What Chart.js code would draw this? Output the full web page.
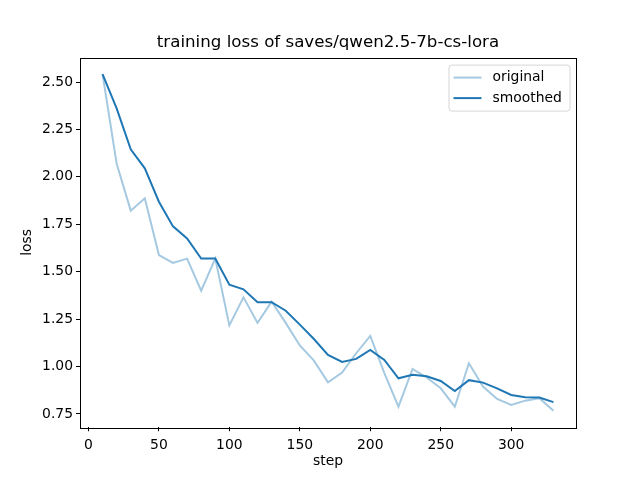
<!DOCTYPE html>
<html><head><meta charset="utf-8">
<script src="https://cdn.jsdelivr.net/npm/chart.js@4.4.0/dist/chart.umd.min.js"></script>
<style>html,body{margin:0;padding:0;background:#fff;}</style>
</head><body>
<canvas id="c" width="640" height="480" style="width:640px;height:480px;display:block"></canvas>
<script>
const steps = [10,20,30,40,50,60,70,80,90,100,110,120,130,140,150,160,170,180,190,200,210,220,230,240,250,260,270,280,290,300,310,320,330];
const originalLoss = [2.542,2.071,1.822,1.887,1.588,1.546,1.569,1.400,1.569,1.217,1.365,1.230,1.342,1.230,1.111,1.031,0.917,0.968,1.070,1.161,0.965,0.788,0.987,0.942,0.885,0.788,1.017,0.894,0.829,0.797,0.820,0.833,0.767];
const smoothedLoss = [2.542,2.361,2.145,2.045,1.869,1.739,1.675,1.569,1.569,1.431,1.407,1.339,1.339,1.294,1.221,1.145,1.061,1.024,1.040,1.087,1.035,0.938,0.957,0.949,0.924,0.871,0.928,0.915,0.885,0.850,0.838,0.836,0.812];
const xTickValues = [0,50,100,150,200,250,300];
const yTickValues = [0.75,1.00,1.25,1.50,1.75,2.00,2.25,2.50];
const titleText = 'training loss of saves/qwen2.5-7b-cs-lora';
const xLabel = 'step';
const yLabel = 'loss';
const seriesNames = ['original','smoothed'];

const FONT = 'DejaVu Sans';
const TICK_SIZE = 13.9;

const titlePlugin = {
  id: 'axesTitle',
  afterDraw(chart) {
    const {ctx, chartArea: a} = chart;
    ctx.save();
    ctx.font = '16.67px "' + FONT + '"';
    ctx.fillStyle = '#000';
    ctx.textAlign = 'center';
    ctx.textBaseline = 'alphabetic';
    ctx.fillText(titleText, (a.left + a.right) / 2, a.top - 10.5);
    ctx.restore();
  }
};

const framePlugin = {
  id: 'frame',
  afterDatasetsDraw(chart) {
    const {ctx, chartArea: a} = chart;
    ctx.save();
    ctx.strokeStyle = '#000';
    ctx.lineWidth = 1;
    ctx.strokeRect(Math.round(a.left) + 0.5, Math.round(a.top) + 0.5, Math.round(a.right - a.left), Math.round(a.bottom - a.top));
    ctx.restore();
  }
};

const legendPlugin = {
  id: 'mplLegend',
  afterDraw(chart) {
    const ctx = chart.ctx;
    const a = chart.chartArea;
    const x = a.right - 127, y = a.top + 7.5, w = 121, h = 46, r = 3;
    ctx.save();
    ctx.beginPath();
    ctx.moveTo(x + r, y);
    ctx.lineTo(x + w - r, y); ctx.arcTo(x + w, y, x + w, y + r, r);
    ctx.lineTo(x + w, y + h - r); ctx.arcTo(x + w, y + h, x + w - r, y + h, r);
    ctx.lineTo(x + r, y + h); ctx.arcTo(x, y + h, x, y + h - r, r);
    ctx.lineTo(x, y + r); ctx.arcTo(x, y, x + r, y, r);
    ctx.closePath();
    ctx.fillStyle = 'rgba(255,255,255,0.8)';
    ctx.fill();
    ctx.strokeStyle = 'rgba(204,204,204,0.8)';
    ctx.lineWidth = 1;
    ctx.stroke();
    ctx.font = TICK_SIZE + 'px "' + FONT + '"';
    ctx.textBaseline = 'middle';
    ctx.textAlign = 'left';
    chart.data.datasets.forEach((ds, i) => {
      const ly = y + 12.5 + i * 20.5;
      ctx.beginPath();
      ctx.moveTo(x + 4.5, ly);
      ctx.lineTo(x + 32.5, ly);
      ctx.strokeStyle = ds.borderColor;
      ctx.lineWidth = 2;
      ctx.stroke();
      ctx.fillStyle = '#000';
      ctx.fillText(ds.label, x + 43.5, ly);
    });
    ctx.restore();
  }
};

new Chart(document.getElementById('c'), {
  type: 'line',
  data: {
    datasets: [
      {
        label: seriesNames[0],
        data: steps.map((s, i) => ({x: s, y: originalLoss[i]})),
        borderColor: 'rgba(31,119,180,0.4)',
        borderWidth: 2,
        pointRadius: 0,
        tension: 0,
        fill: false
      },
      {
        label: seriesNames[1],
        data: steps.map((s, i) => ({x: s, y: smoothedLoss[i]})),
        borderColor: 'rgb(31,119,180)',
        borderWidth: 2,
        pointRadius: 0,
        tension: 0,
        fill: false
      }
    ]
  },
  options: {
    responsive: false,
    devicePixelRatio: 1,
    animation: false,
    layout: {padding: {left: 0, right: 64, top: 57.6, bottom: 0}},
    plugins: {
      legend: {display: false},
      tooltip: {enabled: false},
      title: {display: false}
    },
    scales: {
      x: {
        type: 'linear',
        min: -6,
        max: 346,
        afterBuildTicks(scale) { scale.ticks = xTickValues.map(v => ({value: v})); },
        afterFit(scale) { scale.height = 52.8; },
        ticks: {color: '#000', font: {family: FONT, size: TICK_SIZE}, padding: 6, maxRotation: 0, autoSkip: false,
          callback: v => String(v)},
        grid: {display: true, drawOnChartArea: false, drawTicks: true, tickLength: 4, tickColor: '#000', tickWidth: 1},
        border: {display: false},
        title: {display: true, text: xLabel, color: '#000', font: {family: FONT, size: TICK_SIZE}, padding: {top: 0, bottom: 10}}
      },
      y: {
        type: 'linear',
        min: 0.68,
        max: 2.629,
        afterBuildTicks(scale) { scale.ticks = yTickValues.map(v => ({value: v})); },
        afterFit(scale) { scale.width = 80; },
        ticks: {color: '#000', font: {family: FONT, size: TICK_SIZE}, padding: 3, autoSkip: false,
          callback: v => Number(v).toFixed(2)},
        grid: {display: true, drawOnChartArea: false, drawTicks: true, tickLength: 4, tickColor: '#000', tickWidth: 1},
        border: {display: false},
        title: {display: true, text: yLabel, color: '#000', font: {family: FONT, size: TICK_SIZE}, padding: {top: 19, bottom: 0}}
      }
    }
  },
  plugins: [framePlugin, legendPlugin, titlePlugin]
});
</script>
</body></html>
